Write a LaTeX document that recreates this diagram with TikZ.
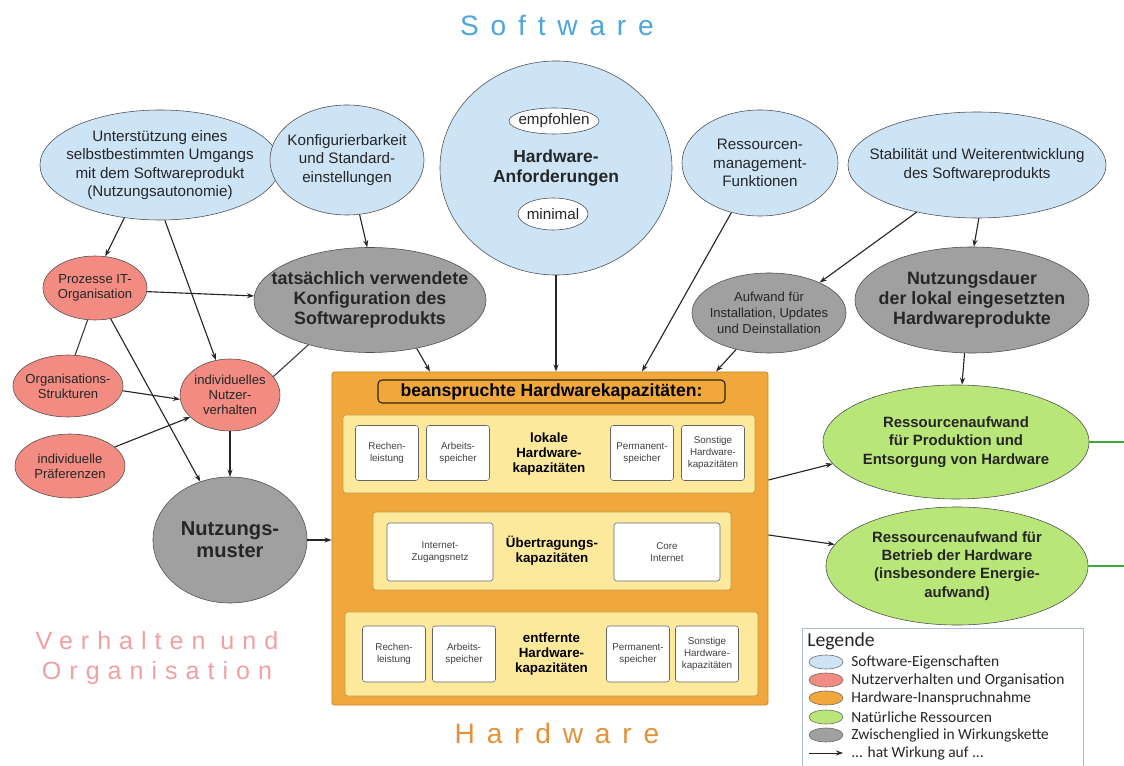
\documentclass[tikz,border=0pt]{standalone}
\usepackage{fontspec}
\setmainfont{Liberation Sans}
\newfontfamily\legfont{Carlito}
\newfontfamily\spacedfont[LetterSpace=42]{Liberation Sans}
\newfontfamily\spacedfontb[LetterSpace=32]{Liberation Sans}
\usetikzlibrary{arrows.meta,shapes.geometric}

\definecolor{swblue}{RGB}{205,228,247}
\definecolor{orgred}{RGB}{242,140,130}
\definecolor{hworange}{RGB}{240,168,60}
\definecolor{hwframe}{RGB}{205,135,45}
\definecolor{resgreen}{RGB}{185,230,120}
\definecolor{zwgray}{RGB}{160,160,160}
\definecolor{rowyellow}{RGB}{253,233,155}
\definecolor{rowframe}{RGB}{190,150,60}
\definecolor{titleblue}{RGB}{75,165,225}
\definecolor{titlered}{RGB}{240,160,160}
\definecolor{titleorange}{RGB}{230,145,55}
\definecolor{linegreen}{RGB}{60,170,60}
\definecolor{legframe}{RGB}{170,190,215}

\tikzset{
  bubble/.style={ellipse, draw=black!70, line width=0.4pt, align=center, inner sep=-30pt, text=black!85},
  swnode/.style={bubble, fill=swblue, font=\fontsize{10.8}{13}\selectfont},
  subnode/.style={bubble, fill=white, font=\fontsize{10.8}{12}\selectfont},
  zwnode/.style={bubble, fill=zwgray, font=\bfseries\fontsize{12.7}{14.3}\selectfont},
  orgnode/.style={bubble, fill=orgred, font=\fontsize{9.3}{10.6}\selectfont},
  resnode/.style={bubble, fill=resgreen, font=\bfseries\fontsize{10.6}{13}\selectfont},
  hwbox/.style={draw=hwframe, fill=hworange, line width=0.6pt, rounded corners=2pt, inner sep=0pt},
  titlebox/.style={draw=black!80!hworange, fill=hworange, line width=0.8pt, rounded corners=3pt, inner sep=0pt, font=\bfseries\fontsize{12.5}{14}\selectfont},
  rowbox/.style={draw=rowframe, fill=rowyellow, line width=0.5pt, rounded corners=2pt, inner sep=0pt, align=center, font=\bfseries\fontsize{9.5}{10.8}\selectfont},
  cellbox/.style={draw=black!60, fill=white, line width=0.4pt, rounded corners=2pt, minimum width=1.575cm, minimum height=1.375cm, inner sep=1pt, align=center, text=black!75, font=\fontsize{7}{8.7}\selectfont},
  legicon/.style={ellipse, draw=black!60, line width=0.4pt, minimum width=0.85cm, minimum height=0.35cm, inner sep=0pt},
  legtext/.style={anchor=west, inner sep=0pt, text=black!85, font=\legfont\fontsize{11}{13}\selectfont},
  wirk/.style={->, line width=0.8pt, black!85},
  link/.style={line width=0.8pt, black!75},
  greenline/.style={line width=1.2pt, linegreen}
}

\begin{document}
\begin{tikzpicture}[x=0.025cm, y=-0.025cm, >={Stealth[length=5pt,width=3.6pt]}]
\useasboundingbox (0,0) rectangle (1124,766);

% Ueberschriften
\node[text=titleblue, font=\spacedfont\fontsize{20}{24}\selectfont] (tsw) at (557,25) {Software};
\node[text=titlered, font=\spacedfontb\fontsize{17.8}{21.3}\selectfont, align=center] (tvo) at (157,658) {Verhalten und\\Organisation};
\node[text=titleorange, font=\spacedfont\fontsize{20}{24}\selectfont] (thw) at (557,733) {Hardware};

% Software
\node[swnode, minimum width=6cm, minimum height=2.75cm] (autonomie) at (160,165) {Unterstützung eines\\selbstbestimmten Umgangs\\mit dem Softwareprodukt\\(Nutzungsautonomie)};
\node[swnode, minimum width=3.85cm, minimum height=2.75cm] (konfig) at (347,160) {Konfigurierbarkeit\\und Standard-\\einstellungen};
\node[swnode, minimum width=5.8cm, minimum height=5.35cm, font=\bfseries\fontsize{12.4}{14.2}\selectfont] (hwanf) at (556,168) {Hardware-\\Anforderungen};
\node[subnode, minimum width=2.25cm, minimum height=0.65cm] (empf) at (554,121) {empfohlen};
\node[subnode, minimum width=1.75cm, minimum height=0.8cm] (minimal) at (553,214) {minimal};
\node[swnode, minimum width=3.9cm, minimum height=2.65cm] (ressmgmt) at (760,163) {Ressourcen-\\management-\\Funktionen};
\node[swnode, minimum width=6.45cm, minimum height=2.65cm] (stabil) at (977,165) {Stabilität und Weiterentwicklung\\des Softwareprodukts};

% Zwischenglieder
\node[zwnode, minimum width=5.8cm, minimum height=2.625cm] (konfiguration) at (370,300) {tatsächlich verwendete\\Konfiguration des\\Softwareprodukts};
\node[zwnode, minimum width=3.85cm, minimum height=2cm, font=\fontsize{9.3}{11.6}\selectfont] (aufwand) at (769,313) {Aufwand für\\Installation, Updates\\und Deinstallation};
\node[zwnode, minimum width=5.85cm, minimum height=2.65cm] (dauer) at (972,300) {Nutzungsdauer\\der lokal eingesetzten\\Hardwareprodukte};
\node[zwnode, minimum width=3.85cm, minimum height=3.15cm, font=\bfseries\fontsize{14.3}{15.4}\selectfont] (muster) at (230,540) {Nutzungs-\\muster};

% Verhalten und Organisation
\node[orgnode, minimum width=2.6cm, minimum height=1.6cm] (prozesse) at (95,288) {Prozesse IT-\\Organisation};
\node[orgnode, minimum width=2.75cm, minimum height=1.55cm] (orgstr) at (68,386) {Organisations-\\Strukturen};
\node[orgnode, minimum width=2.5cm, minimum height=1.8cm] (nutzerv) at (230,395) {individuelles\\Nutzer-\\verhalten};
\node[orgnode, minimum width=2.75cm, minimum height=1.6cm] (praef) at (70,466) {individuelle\\Präferenzen};

% Hardware
\node[hwbox, minimum width=10.9cm, minimum height=8.325cm] (hw) at (550,538.5) {};
\node[titlebox, minimum width=8.675cm, minimum height=0.575cm] (hwtitel) at (551.5,391.5) {beanspruchte Hardwarekapazitäten:};
\node[rowbox, minimum width=10.3cm, minimum height=1.95cm] (lokal) at (549,454) {lokale\\Hardware-\\kapazitäten};
\node[rowbox, minimum width=8.95cm, minimum height=1.95cm] (uebertr) at (552,551) {Übertragungs-\\kapazitäten};
\node[rowbox, minimum width=10.325cm, minimum height=2.1cm] (entf) at (551.5,654) {entfernte\\Hardware-\\kapazitäten};
\node[cellbox] (lrech) at (387,453) {Rechen-\\leistung};
\node[cellbox] (larb) at (458,453) {Arbeits-\\speicher};
\node[cellbox] (lperm) at (642,453) {Permanent-\\speicher};
\node[cellbox] (lsonst) at (713,453) {Sonstige\\Hardware-\\kapazitäten};
\node[cellbox, minimum width=2.65cm, minimum height=1.45cm] (zugang) at (440,552) {Internet-\\Zugangsnetz};
\node[cellbox, minimum width=2.65cm, minimum height=1.45cm] (core) at (667,552) {Core\\Internet};
\node[cellbox, minimum height=1.4cm] (erech) at (394,654) {Rechen-\\leistung};
\node[cellbox, minimum height=1.4cm] (earb) at (464,654) {Arbeits-\\speicher};
\node[cellbox, minimum height=1.4cm] (eperm) at (638,654) {Permanent-\\speicher};
\node[cellbox, minimum height=1.4cm] (esonst) at (707,654) {Sonstige\\Hardware-\\kapazitäten};

% Natuerliche Ressourcen
\node[resnode, minimum width=6.65cm, minimum height=2.85cm] (prod) at (956,442) {Ressourcenaufwand\\für Produktion und\\Entsorgung von Hardware};
\node[resnode, minimum width=6.55cm, minimum height=2.95cm] (betrieb) at (957,566) {Ressourcenaufwand für\\Betrieb der Hardware\\(insbesondere Energie-\\aufwand)};
\coordinate (prodend) at (1124,442);
\coordinate (betriebend) at (1124,566);

% Wirkungen
\coordinate (hwin1) at (430,0 |- hw.north);
\coordinate (hwin2) at (642,0 |- hw.north);
\coordinate (hwin3) at (716,0 |- hw.north);
\coordinate (hwout1) at (hw.east |- 0,480);
\coordinate (hwout2) at (hw.east |- 0,535);
\draw[wirk] (autonomie.236) -- (prozesse.72);
\draw[wirk] (autonomie.275) -- (nutzerv.112);
\draw[wirk] (konfig.283) -- (konfiguration.93);
\draw[wirk] (prozesse.356) -- (konfiguration.178);
\draw[link] (prozesse.257) -- (orgstr.77);
\draw[wirk] (prozesse.297) -- (muster.117);
\draw[wirk] (orgstr.355) -- (nutzerv.185);
\draw[wirk] (praef.23) -- (nutzerv.209);
\draw[link] (nutzerv.23) -- (konfiguration.216);
\draw[wirk] (nutzerv.south) -- (muster.north);
\draw[wirk] (muster.east) -- (muster.east -| hw.west);
\draw[wirk] (konfiguration.314) -- (hwin1);
\draw[wirk] (hwanf.south) -- (hwanf.south |- hw.north);
\draw[wirk] (ressmgmt.240) -- (hwin2);
\draw[wirk] (stabil.218) -- (aufwand.31);
\draw[wirk] (stabil.272) -- (dauer.88);
\draw[wirk] (aufwand.228) -- (hwin3);
\draw[wirk] (dauer.262) -- (prod.84);
\draw[wirk] (hwout1) -- (prod.190);
\draw[wirk] (hwout2) -- (betrieb.170);
\draw[greenline] (prod.east) -- (prodend);
\draw[greenline] (betrieb.east) -- (betriebend);

% Legende
\node[draw=legframe, fill=white, line width=0.6pt, minimum width=7.025cm, minimum height=3.55cm, anchor=north west, inner sep=0pt] (legende) at (802,628) {};
\node[legtext, font=\legfont\fontsize{14}{16}\selectfont] (legtitel) at (807,641) {Legende};
\node[legicon, fill=swblue] (lsw) at (826,662) {};
\node[legtext] (lswt) at (851,662) {Software-Eigenschaften};
\node[legicon, fill=orgred] (lorg) at (826,680) {};
\node[legtext] (lorgt) at (851,680) {Nutzerverhalten und Organisation};
\node[legicon, fill=hworange] (lhw) at (826,698) {};
\node[legtext] (lhwt) at (851,698) {Hardware-Inanspruchnahme};
\node[legicon, fill=resgreen] (lres) at (826,717) {};
\node[legtext] (lrest) at (851,717) {Natürliche Ressourcen};
\node[legicon, fill=zwgray] (lzw) at (826,735) {};
\node[legtext] (lzwt) at (851,735) {Zwischenglied in Wirkungskette};
\coordinate (lpa) at (809,753);
\coordinate (lpb) at (843,753);
\draw[wirk, line width=0.6pt] (lpa) -- (lpb);
\node[legtext] (lpt) at (851,753) {... hat Wirkung auf ...};
\end{tikzpicture}
\end{document}
